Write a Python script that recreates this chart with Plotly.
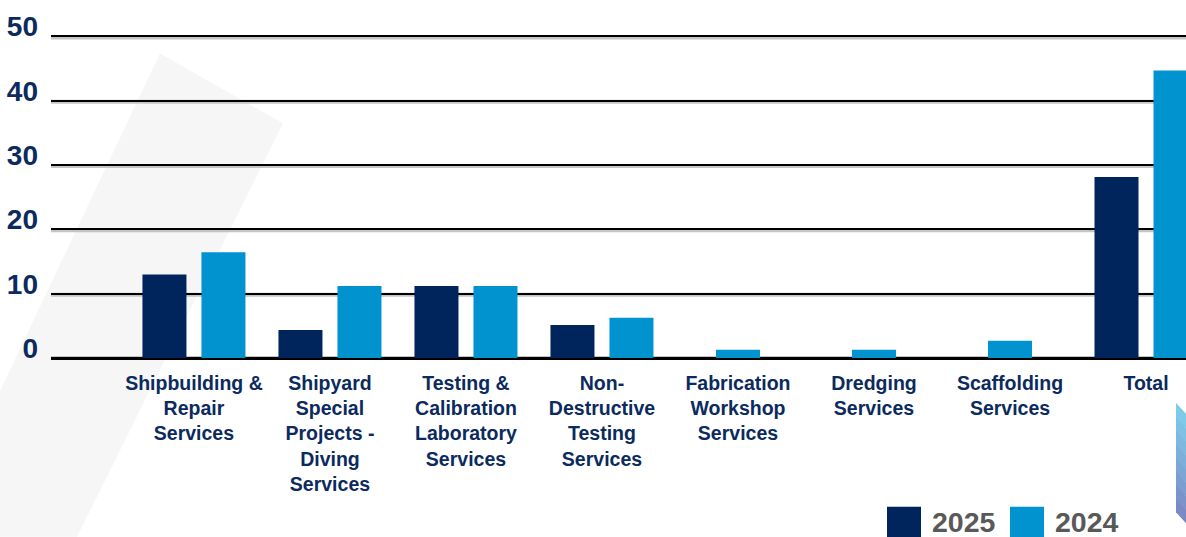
import plotly.graph_objects as go

# ---------------- data ----------------
categories = [
    "Shipbuilding &<br>Repair<br>Services",
    "Shipyard<br>Special<br>Projects -<br>Diving<br>Services",
    "Testing &<br>Calibration<br>Laboratory<br>Services",
    "Non-<br>Destructive<br>Testing<br>Services",
    "Fabrication<br>Workshop<br>Services",
    "Dredging<br>Services",
    "Scaffolding<br>Services",
    "Total",
]
values_2025 = [13.0, 4.35, 11.2, 5.15, 0, 0, 0, 28.15]
values_2024 = [16.45, 11.2, 11.2, 6.25, 1.3, 1.3, 2.7, 44.7]
series_names = ["2025", "2024"]
y_ticks = [0, 10, 20, 30, 40, 50]

# ---------------- layout constants ----------------
W, H = 1186, 537
Y_RANGE = [0, 51]
ML, MR, MB = 51, 0, 179
PX_PER_Y = 6.44
MT = H - MB - PX_PER_Y * (Y_RANGE[1] - Y_RANGE[0])
PLOT_W = W - ML - MR
PLOT_H = H - MT - MB
X_RANGE = [-1.051, 7.294]
PX_PER_UNIT = PLOT_W / (X_RANGE[1] - X_RANGE[0])
BAR_PX = 44
PAIR_PX = 59

NAVY = "#00245C"
LIGHT = "#0093D0"
LABEL_NAVY = "#0B2A5E"
GREY_TEXT = "#595959"
FONT = "Liberation Sans, Arial, sans-serif"

bw = BAR_PX / PX_PER_UNIT
half_pair = (PAIR_PX / PX_PER_UNIT) / 2

off_2025 = [-half_pair - bw / 2 for _ in values_2025]
off_2024 = [(-bw / 2 if a == 0 else half_pair - bw / 2) for a in values_2025]


def px_x(px):
    return (px - ML) / PLOT_W


def px_y(py):
    return (H - MB - py) / PLOT_H


fig = go.Figure()
fig.add_trace(go.Bar(
    x=categories, y=values_2025, name=series_names[0],
    width=[bw] * len(categories), offset=off_2025,
    marker=dict(color=NAVY, line=dict(width=0)), showlegend=False,
))
fig.add_trace(go.Bar(
    x=categories, y=values_2024, name=series_names[1],
    width=[bw] * len(categories), offset=off_2024,
    marker=dict(color=LIGHT, line=dict(width=0)), showlegend=False,
))

shapes = []
# faint diagonal background band
band = [(160, 53), (283, 123), (77, 537), (0, 537), (0, 391)]
path = "M " + " L ".join(f"{px_x(a):.4f},{px_y(b):.4f}" for a, b in band) + " Z"
shapes.append(dict(type="path", xref="paper", yref="paper", path=path,
                   fillcolor="#f6f6f6", line=dict(width=0), layer="below"))

# soft grey shadow under each gridline
for t in y_ticks:
    shapes.append(dict(type="line", xref="paper", yref="y", ysizemode="pixel",
                       yanchor=t, x0=0, x1=1, y0=-1 if t else 0, y1=-1 if t else 0,
                       line=dict(color="#c4c4c4", width=4), layer="below"))

# blue gradient decoration at bottom right (sliced)
top_c = (126, 208, 236)
bot_c = (123, 134, 194)
n = 8
for i in range(n):
    t0, t1 = i / n, (i + 1) / n
    y0l, y1l = 403 + (512 - 403) * t0, 403 + (512 - 403) * t1
    c = tuple(int(top_c[k] + (bot_c[k] - top_c[k]) * (t0 + t1) / 2) for k in range(3))
    pts = [(1176, y0l), (1187, y0l + 12), (1187, y1l + 12.5), (1176, y1l + 0.5)]
    p = "M " + " L ".join(f"{px_x(a):.4f},{px_y(b):.4f}" for a, b in pts) + " Z"
    shapes.append(dict(type="path", xref="paper", yref="paper", path=p,
                       fillcolor=f"rgb{c}", line=dict(width=0), layer="below"))

# custom legend
legend_items = [(series_names[0], NAVY, 887), (series_names[1], LIGHT, 1010)]
annotations = []
for name, col, x0 in legend_items:
    shapes.append(dict(type="rect", xref="paper", yref="paper",
                       x0=px_x(x0), x1=px_x(x0 + 34), y0=px_y(507), y1=px_y(545),
                       fillcolor=col, line=dict(width=0)))
    annotations.append(dict(xref="paper", yref="paper", x=px_x(x0 + 43), y=px_y(522),
                            text=name, showarrow=False, xanchor="left", yanchor="middle",
                            font=dict(family=FONT, size=28.5, color=GREY_TEXT, weight="bold")))

fig.update_layout(
    width=W, height=H,
    margin=dict(l=ML, r=MR, t=MT, b=MB, pad=0),
    barmode="overlay",
    paper_bgcolor="white", plot_bgcolor="rgba(0,0,0,0)",
    shapes=shapes, annotations=annotations,
    showlegend=False,
    xaxis=dict(
        type="category", range=X_RANGE, showgrid=False, showline=False,
        zeroline=False, ticks="", ticklabelstandoff=11,
        tickfont=dict(family=FONT, size=19.5, color=LABEL_NAVY, weight="bold"),
    ),
    yaxis=dict(
        range=Y_RANGE, tickvals=y_ticks, ticktext=[str(v) for v in y_ticks],
        showgrid=True, gridcolor="#000000", gridwidth=2,
        zeroline=True, zerolinecolor="#000000", zerolinewidth=2.5,
        showline=False, ticks="", ticklabelstandoff=12, ticklabelshift=-10,
        tickfont=dict(family=FONT, size=28, color=LABEL_NAVY, weight="bold"),
    ),
)

fig.write_html("out.html")
